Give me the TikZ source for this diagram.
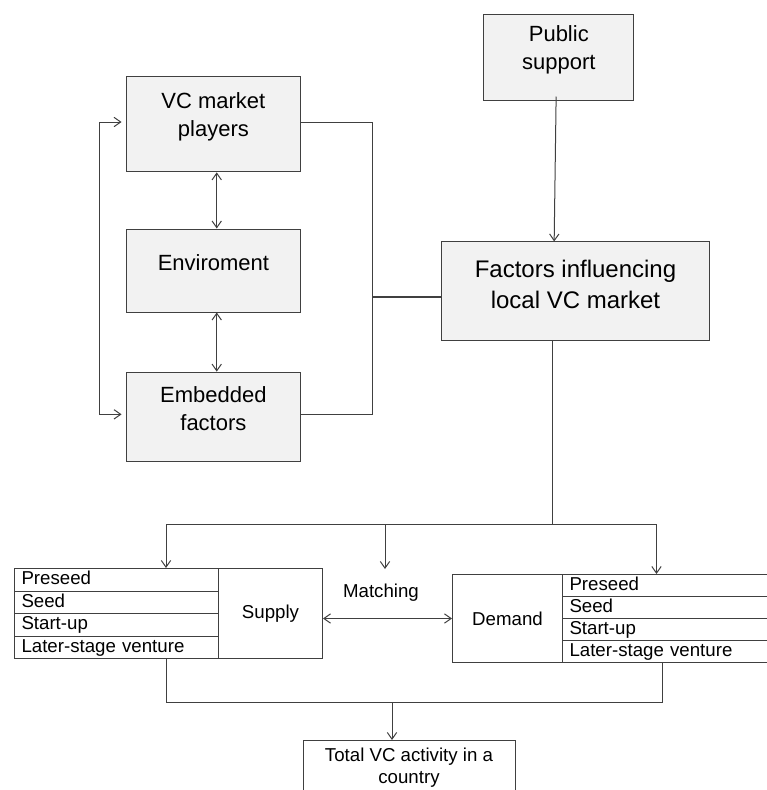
\documentclass[tikz,border=0pt]{standalone}
\usepackage{fontspec}
\setmainfont{Liberation Sans}
\usetikzlibrary{arrows.meta}

\definecolor{linegray}{HTML}{404040}
\definecolor{boxgray}{HTML}{F2F2F2}

\tikzset{every picture/.style={line width=0.75pt}}
\tikzset{
  box/.style={draw=linegray, fill=boxgray, inner sep=0pt},
  boxtext/.style={inner sep=0.75pt, align=center, font=\fontsize{16.5}{21}\selectfont},
  bigtext/.style={inner sep=0.75pt, align=center, font=\fontsize{18}{23.25}\selectfont},
  smalltext/.style={inner sep=0.75pt, align=center, font=\fontsize{14}{16.5}\selectfont},
  cell/.style={draw=linegray, anchor=north west, inner xsep=5.25pt, inner ysep=0pt, text width=#1, align=left, text height=10.5pt, text depth=3pt, font=\fontsize{14}{16.5}\selectfont},
  headcell/.style={draw=linegray, anchor=north west, inner sep=0pt, font=\fontsize{14}{16.5}\selectfont},
  link/.style={draw=linegray},
  >={Straight Barb[length=5pt,width=7pt]}
}

\begin{document}
\begin{tikzpicture}[x=0.75pt,y=0.75pt,yscale=-1,xscale=1]

\useasboundingbox (0,0) rectangle (767,790);
\clip (0,0) rectangle (767,790);

\node (players) [box, minimum width=131pt, minimum height=71.8pt] at (213.4,124) {};
\node (playerstxt) [boxtext] at (213.4,117) {VC market\\players};

\node (env) [box, minimum width=131pt, minimum height=62.25pt] at (213.4,270.5) {};
\node (envtxt) [boxtext] at (213.4,263) {Enviroment};

\node (embedded) [box, minimum width=131pt, minimum height=67.3pt] at (213.4,417) {};
\node (embeddedtxt) [boxtext] at (213.4,409) {Embedded\\factors};

\node (public) [box, minimum width=112.7pt, minimum height=64.5pt] at (558.8,57) {};
\node (publictxt) [boxtext] at (558.8,50) {Public\\support};

\node (factors) [box, minimum width=200.7pt, minimum height=74pt] at (575.5,291.3) {};
\node (factorstxt) [bigtext] at (575.5,284) {Factors influencing\\local VC market};

\node (spre) [cell=142.5pt, minimum height=16.875pt] at (14,568) {Preseed};
\node (sseed) [cell=142.5pt, minimum height=16.875pt] at (14,590.5) {Seed};
\node (sstart) [cell=142.5pt, minimum height=16.875pt] at (14,613) {Start-up};
\node (slate) [cell=142.5pt, minimum height=16.875pt] at (14,635.5) {Later-stage venture};
\node (supply) [headcell, minimum width=78pt, minimum height=67.5pt] at (218,568) {Supply};

\node (demand) [headcell, minimum width=82.5pt, minimum height=66pt] at (452,574) {Demand};
\node (dpre) [cell=153pt, minimum height=16.5pt] at (562,574) {Preseed};
\node (dseed) [cell=153pt, minimum height=16.5pt] at (562,596) {Seed};
\node (dstart) [cell=153pt, minimum height=16.5pt] at (562,618) {Start-up};
\node (dlate) [cell=153pt, minimum height=16.5pt] at (562,640) {Later-stage venture};

\node (matching) [smalltext] at (381,593) {Matching};

\node (total) [box, fill=white, anchor=north, minimum width=159pt, minimum height=60pt] at (409,740) {};
\node (totaltxt) [smalltext] at (409,768) {Total VC activity in a\\country};

\coordinate (loop) at (99,0);
\coordinate (rail) at (372.7,0);
\coordinate (hub) at (552.3,524.7);
\coordinate (busl) at (166,524.7);
\coordinate (busm) at (385,524.7);
\coordinate (busr) at (656.5,524.7);
\coordinate (matchtop) at (385,569);
\coordinate (sinkl) at (166,702.7);
\coordinate (sinkm) at (392,702.7);
\coordinate (sinkr) at (662.7,702.7);

\draw [link,->] ([xshift=-2pt,yshift=-3pt]public.south) -- ([xshift=-16pt]factors.north);

\draw [link,<->] ([xshift=2.5pt]players.south) -- ([xshift=2.5pt]env.north);
\draw [link,<->] ([xshift=2.5pt]env.south) -- ([xshift=2.5pt]embedded.north);

\draw [link,<->,shorten <=3pt,shorten >=3pt] ([yshift=-1.5pt]players.west) -- ([yshift=-1.5pt]players.west -| loop) -- ([yshift=-2pt]embedded.west -| loop) -- ([yshift=-2pt]embedded.west);

\draw [link] ([yshift=-1.5pt]players.east) -- ([yshift=-1.5pt]players.east -| rail) -- ([yshift=-2pt]embedded.east -| rail) -- ([yshift=-2pt]embedded.east);
\draw [link,line width=1.5pt] ([yshift=4.5pt]factors.west) -- ([yshift=4.5pt]factors.west -| rail);

\draw [link] (factors.south -| hub) -- (hub);
\draw [link] (busl) -- (busr);
\draw [link,->] (busl) -- (busl |- spre.north);
\draw [link,->] (busm) -- (matchtop);
\draw [link,->] (busr) -- (busr |- dpre.north);

\draw [link,<->] (demand.west -| supply.east) -- (demand.west);

\draw [link] (sinkl |- slate.south) -- (sinkl) -- (sinkr) -- (sinkr |- dlate.south);
\draw [link,->] (sinkm) -- (sinkm |- total.north);

\end{tikzpicture}
\end{document}
